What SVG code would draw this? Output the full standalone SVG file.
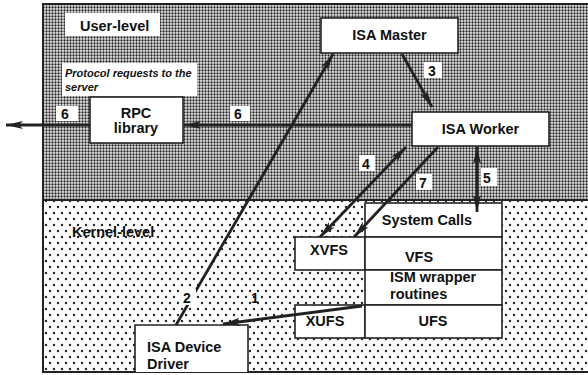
<svg xmlns="http://www.w3.org/2000/svg" width="588" height="375" viewBox="0 0 588 375">
<defs>
<pattern id="userPat" width="3" height="3" patternUnits="userSpaceOnUse">
<rect width="3" height="3" fill="#ececec"/>
<circle cx="1.5" cy="1.5" r="1.15" fill="#262626"/>
</pattern>
<pattern id="kernPat" width="8" height="12" patternUnits="userSpaceOnUse">
<rect width="8" height="12" fill="#ffffff"/>
<circle cx="2" cy="3" r="1.2" fill="#222"/>
<circle cx="6" cy="9" r="1.2" fill="#222"/>
</pattern>
<marker id="ah" markerUnits="userSpaceOnUse" markerWidth="20" markerHeight="10" refX="17" refY="4.5" orient="auto-start-reverse">
<path d="M0,0.5 L17,4.5 L0,8.5 L4,4.5 z" fill="#222"/>
</marker>
<style>
.box{fill:#fff;stroke:#222;stroke-width:1.6}
.t{font-family:"Liberation Sans",Arial,sans-serif;font-weight:bold;font-size:14.5px;fill:#111}
.it{font-family:"Liberation Sans",Arial,sans-serif;font-weight:bold;font-style:italic;font-size:11px;fill:#111}
.lbl{font-family:"Liberation Sans",Arial,sans-serif;font-weight:bold;font-size:14px;fill:#111}
.c{fill:none;stroke:#222;stroke-width:2.8}
.bg{fill:#fff}
</style>
</defs>
<rect width="588" height="375" fill="#fff"/>
<g id="user-level">
<rect x="43" y="4" width="550" height="196" fill="url(#userPat)"/>
<rect x="65" y="13" width="95" height="23" class="bg"/>
<text x="80" y="31" class="t">User-level</text>
<rect x="62" y="63" width="135" height="33" class="bg"/>
<text x="65" y="77" class="it">Protocol requests to the</text>
<text x="65" y="91" class="it">server</text>
</g>
<g id="kernel-level">
<rect x="43" y="200" width="550" height="172" fill="url(#kernPat)"/>
<text x="72" y="237" class="t">Kernel-level</text>
</g>
<rect x="43" y="4" width="560" height="368" fill="none" stroke="#222" stroke-width="2"/>
<line x1="43" y1="200" x2="588" y2="200" stroke="#222" stroke-width="2"/>
<g id="isa-master">
<rect x="321" y="18" width="137" height="35" class="box"/>
<text x="389.5" y="40" class="t" text-anchor="middle">ISA Master</text>
</g>
<g id="isa-worker">
<rect x="412" y="112" width="137" height="34" class="box"/>
<text x="480.5" y="134" class="t" text-anchor="middle">ISA Worker</text>
</g>
<g id="rpc-library">
<rect x="90" y="97" width="93" height="46" class="box"/>
<text x="136" y="118" class="t" text-anchor="middle">RPC</text>
<text x="136" y="133" class="t" text-anchor="middle">library</text>
</g>
<g id="system-calls">
<rect x="365" y="203" width="137" height="34" class="box"/>
<text x="427" y="225" class="t" text-anchor="middle">System Calls</text>
</g>
<g id="xvfs">
<rect x="295" y="237" width="70" height="33" class="box"/>
<text x="329" y="255" class="t" text-anchor="middle">XVFS</text>
</g>
<g id="vfs">
<rect x="365" y="237" width="137" height="33" class="box"/>
<text x="419" y="262" class="t" text-anchor="middle">VFS</text>
</g>
<g id="ism-wrapper">
<rect x="365" y="270" width="137" height="35" class="box"/>
<text x="390" y="282" class="t">ISM wrapper</text>
<text x="390" y="299" class="t">routines</text>
</g>
<g id="xufs">
<rect x="295" y="305" width="70" height="33" class="box"/>
<text x="325" y="326" class="t" text-anchor="middle">XUFS</text>
</g>
<g id="ufs">
<rect x="365" y="305" width="137" height="33" class="box"/>
<text x="433" y="326" class="t" text-anchor="middle">UFS</text>
</g>
<g id="isa-device-driver">
<path d="M135,372 V325 H248 V372" class="box"/>
<text x="147" y="352" class="t">ISA Device</text>
<text x="147" y="369" class="t">Driver</text>
</g>
<g id="connectors">
<line x1="412" y1="125" x2="184" y2="125" class="c" marker-end="url(#ah)"/>
<line x1="90" y1="125" x2="6" y2="125" class="c" marker-end="url(#ah)"/>
<line x1="402" y1="54" x2="432" y2="107" class="c" marker-end="url(#ah)"/>
<line x1="176" y1="325" x2="333" y2="54" class="c" marker-end="url(#ah)"/>
<line x1="362" y1="306" x2="223" y2="324" class="c" marker-end="url(#ah)"/>
<line x1="320" y1="237" x2="406" y2="147" class="c" marker-start="url(#ah)" marker-end="url(#ah)"/>
<line x1="438" y1="147" x2="354" y2="237" class="c" marker-end="url(#ah)"/>
<line x1="477" y1="147" x2="477" y2="212" class="c" marker-start="url(#ah)" marker-end="url(#ah)"/>
</g>
<g id="labels">
<rect x="56" y="106" width="22" height="15" class="bg"/>
<text x="61" y="119" class="lbl">6</text>
<rect x="230" y="106" width="20" height="15" class="bg"/>
<text x="234" y="119" class="lbl">6</text>
<rect x="424" y="62" width="18" height="16" class="bg"/>
<text x="428" y="76" class="lbl">3</text>
<rect x="359" y="155" width="16" height="16" class="bg"/>
<text x="362" y="169" class="lbl">4</text>
<rect x="416" y="174" width="16" height="16" class="bg"/>
<text x="419" y="188" class="lbl">7</text>
<rect x="481" y="168" width="16" height="18" class="bg"/>
<text x="483" y="183" class="lbl">5</text>
<rect x="181" y="289" width="15" height="16" class="bg"/>
<text x="183" y="303" class="lbl">2</text>
<text x="251" y="303" class="lbl">1</text>
</g>
</svg>
